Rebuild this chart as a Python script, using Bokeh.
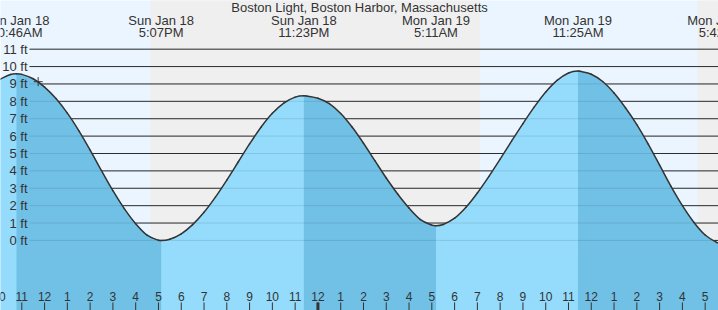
import numpy as np
from bokeh.plotting import figure
from bokeh.models import Range1d
from bokeh.embed import file_html
from bokeh.resources import INLINE
from bokeh.core.properties import value

title_text = "Boston Light, Boston Harbor, Massachusetts"

# Tide curve: hours since Sun Jan 18 00:00, height in ft
hours = [10.0, 10.5, 10.767, 11.0, 11.5, 12.0, 12.5, 13.0, 13.5, 14.0, 14.5, 15.0,
         15.5, 16.0, 16.5, 17.0, 17.117, 17.5, 18.0, 18.5, 19.0, 19.5, 20.0, 20.5,
         21.0, 21.5, 22.0, 22.5, 23.0, 23.383, 23.5, 24.0, 24.5, 25.0, 25.5, 26.0,
         26.5, 27.0, 27.5, 28.0, 28.5, 29.0, 29.183, 29.5, 30.0, 30.5, 31.0, 31.5,
         32.0, 32.5, 33.0, 33.5, 34.0, 34.5, 35.0, 35.417, 35.5, 36.0, 36.5, 37.0,
         37.5, 38.0, 38.5, 39.0, 39.5, 40.0, 40.5, 41.0, 41.5, 41.7, 42.0]
feet = [9.24, 9.54, 9.58, 9.55, 9.30, 8.82, 8.16, 7.32, 6.32, 5.20, 4.01, 2.86,
        1.83, 0.96, 0.30, 0.01, 0.00, 0.07, 0.38, 0.91, 1.62, 2.49, 3.47, 4.51,
        5.55, 6.51, 7.31, 7.90, 8.24, 8.32, 8.31, 8.18, 7.87, 7.30, 6.52, 5.59,
        4.59, 3.59, 2.67, 1.86, 1.20, 0.88, 0.85, 0.92, 1.28, 1.91, 2.73, 3.67,
        4.68, 5.71, 6.72, 7.68, 8.54, 9.21, 9.63, 9.74, 9.73, 9.56, 9.14, 8.48,
        7.63, 6.66, 5.54, 4.33, 3.11, 2.00, 1.05, 0.31, -0.11, -0.18, -0.17]

# High / low tide events
ext_hours = [10.767, 17.117, 23.383, 29.183, 35.417, 41.700]
ext_day = ["Sun Jan 18", "Sun Jan 18", "Sun Jan 18", "Mon Jan 19", "Mon Jan 19", "Mon Jan 19"]
ext_time = ["10:46AM", "5:07PM", "11:23PM", "5:11AM", "11:25AM", "5:42PM"]
ext_kind = ["H", "L", "H", "L", "H", "L"]

# Night periods (sunset -> sunrise), hours
night_start = [16.65, 40.66]
night_end = [31.12, 44.0]

# Height grid
ft_levels = [0, 1, 2, 3, 4, 5, 6, 7, 8, 9, 10, 11]
ft_labels = ["0 ft", "1 ft", "2 ft", "3 ft", "4 ft", "5 ft", "6 ft", "7 ft",
             "8 ft", "9 ft", "10 ft", "11 ft"]

# Hour ticks
tick_hours = list(range(10, 42))
tick_labels = ["10", "11", "12", "1", "2", "3", "4", "5", "6", "7", "8", "9", "10", "11",
               "12", "1", "2", "3", "4", "5", "6", "7", "8", "9", "10", "11",
               "12", "1", "2", "3", "4", "5"]
midnight_hours = [24]

# current-time marker
now_hour = [11.72]
now_ft = [9.13]

X0, X1 = 10.065, 41.585
Y0, Y1 = -4.03, 13.80

DAY = "#EBF5FF"
NIGHT = "#EFEFEF"
RISE = "#94DBFC"
FALL = "#71C0E5"
INK = "#333333"
FONT = value("Liberation Sans")

p = figure(width=718, height=310, x_range=Range1d(X0, X1), y_range=Range1d(Y0, Y1),
           x_axis_type=None, y_axis_type=None, toolbar_location=None,
           output_backend="svg", min_border=0, background_fill_color=DAY,
           border_fill_color=DAY, outline_line_color=None)
p.grid.visible = False

# night shading
p.quad(left=night_start, right=night_end, bottom=Y0 - 1, top=Y1 + 1,
       fill_color=NIGHT, line_color=None)

# grid lines (above water)
grid_x0 = 11.338
n = len(ft_levels)
p.segment(x0=[grid_x0] * n, y0=ft_levels, x1=[X1 + 1] * n, y1=ft_levels,
          line_color=INK, line_width=1)

# water fill
h = np.array(hours)
f = np.array(feet)
p.varea(x=hours, y1=[Y0 - 1] * len(hours), y2=feet, fill_color=RISE)
for i in range(len(ext_hours)):
    if ext_kind[i] == "H":
        t0 = ext_hours[i]
        t1 = ext_hours[i + 1] if i + 1 < len(ext_hours) else X1 + 1
        m = (h >= t0 - 1e-6) & (h <= t1 + 1e-6)
        p.varea(x=h[m], y1=np.full(m.sum(), Y0 - 1), y2=f[m], fill_color=FALL)

# faint grid lines seen through the water
p.segment(x0=[grid_x0] * n, y0=ft_levels, x1=[X1 + 1] * n, y1=ft_levels,
          line_color="black", line_alpha=0.1, line_width=1)

# tide curve drawn as smooth cubic segments through the points
slope = np.zeros(len(h))
slope[1:-1] = (f[2:] - f[:-2]) / (h[2:] - h[:-2])
slope[0] = (f[1] - f[0]) / (h[1] - h[0])
slope[-1] = (f[-1] - f[-2]) / (h[-1] - h[-2])
for t in ext_hours:
    slope[np.abs(h - t) < 1e-6] = 0.0
dx = (h[1:] - h[:-1]) / 3.0
p.bezier(x0=h[:-1], y0=f[:-1], x1=h[1:], y1=f[1:],
         cx0=h[:-1] + dx, cy0=f[:-1] + slope[:-1] * dx,
         cx1=h[1:] - dx, cy1=f[1:] - slope[1:] * dx,
         line_color=INK, line_width=1.5, line_cap="round")

# current time marker
p.scatter(x=now_hour, y=now_ft, marker="cross", size=9, line_color=INK, line_width=1)

# y labels
p.text(x=[11.25] * n, y=ft_levels, text=ft_labels, text_align="right",
       text_baseline="middle", text_font=FONT, text_font_size="13px", text_color=INK)

# title and event labels
p.text(x=[(X0 + X1) / 2], y=[13.40], text=[title_text], text_align="center",
       text_baseline="middle", text_font=FONT, text_font_size="13px", text_color=INK)
p.text(x=ext_hours, y=[12.65] * len(ext_hours), text=ext_day, text_align="center",
       text_baseline="middle", text_font=FONT, text_font_size="13px", text_color=INK)
p.text(x=ext_hours, y=[11.96] * len(ext_hours), text=ext_time, text_align="center",
       text_baseline="middle", text_font=FONT, text_font_size="13px", text_color=INK)

# hour ticks
p.segment(x0=tick_hours, y0=[-3.565] * len(tick_hours), x1=tick_hours,
          y1=[Y0 - 0.5] * len(tick_hours), line_color=INK, line_width=1)
p.segment(x0=midnight_hours, y0=[-3.565], x1=midnight_hours, y1=[Y0 - 0.5],
          line_color=INK, line_width=3)
p.text(x=tick_hours, y=[-3.22] * len(tick_hours), text=tick_labels, text_align="center",
       text_baseline="middle", text_font=FONT, text_font_size="12px", text_color=INK)

open("out.html", "w").write(file_html(p, INLINE))
